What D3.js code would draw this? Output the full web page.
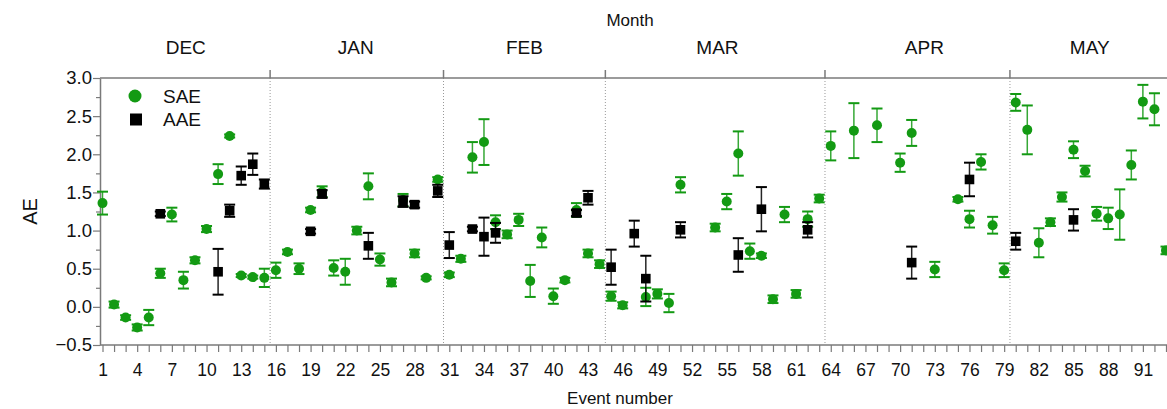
<!DOCTYPE html>
<html>
<head>
<meta charset="utf-8">
<script src="https://cdn.jsdelivr.net/npm/d3@7"></script>
<style>
  body { margin: 0; background: #fff; }
  svg text { font-family: "Liberation Sans", Arial, sans-serif; fill: #111; }
</style>
</head>
<body>
<div id="chart"></div>
<script>
// SAE series : event number, value, error
var saeEvent = [1,2,3,4,5,6,7,8,9,10,11,12,13,14,15,16,17,18,19,20,21,22,23,24,25,26,27,28,29,30,
  31,32,33,34,35,36,37,38,39,40,41,42,43,44,45,46,48,49,50,51,54,55,56,57,58,59,60,61,62,63,
  64,66,68,70,71,73,75,76,77,78,79,80,81,82,83,84,85,86,87,88,89,90,91,92,93];
var saeValue = [1.36,0.03,-0.14,-0.27,-0.14,0.44,1.21,0.35,0.61,1.02,1.74,2.24,0.41,0.39,0.38,0.48,0.72,0.50,1.27,1.51,
  0.51,0.46,1.00,1.58,0.62,0.32,1.40,0.70,0.38,1.67,
  0.42,0.63,1.96,2.16,1.11,0.95,1.14,0.34,0.91,0.14,0.35,1.27,0.70,0.56,0.14,0.02,0.13,0.17,0.05,1.60,
  1.04,1.38,2.01,0.73,0.67,0.10,1.21,0.17,1.15,1.42,
  2.11,2.31,2.38,1.89,2.28,0.49,1.41,1.15,1.90,1.07,0.48,2.68,2.32,0.84,1.11,1.44,2.06,1.78,1.22,1.16,
  1.21,1.86,2.69,2.59,0.74];
var saeErr = [0.15,0.04,0.03,0.04,0.10,0.06,0.09,0.11,0.04,0.04,0.13,0.02,0.02,0.02,0.12,0.10,0.03,0.07,0.03,0.07,
  0.10,0.17,0.05,0.17,0.08,0.05,0.08,0.05,0.02,0.03,
  0.03,0.04,0.20,0.30,0.09,0.05,0.08,0.21,0.13,0.10,0.03,0.09,0.05,0.05,0.06,0.04,0.12,0.06,0.12,0.10,
  0.05,0.10,0.29,0.10,0.03,0.05,0.10,0.05,0.10,0.05,
  0.19,0.36,0.22,0.12,0.17,0.10,0.03,0.11,0.10,0.11,0.09,0.11,0.32,0.19,0.05,0.06,0.11,0.07,0.09,0.14,
  0.33,0.19,0.22,0.21,0.05];

// AAE series
var aaeEvent = [6,11,12,13,14,15,19,20,24,27,28,30,31,33,34,35,42,43,45,47,48,51,56,58,62,71,76,80,85];
var aaeValue = [1.22,0.46,1.26,1.72,1.87,1.61,0.99,1.48,0.80,1.38,1.34,1.52,0.81,1.02,0.92,0.97,1.23,1.43,
  0.52,0.96,0.37,1.01,0.68,1.28,1.01,0.58,1.67,0.86,1.14];
var aaeErr = [0.03,0.30,0.08,0.12,0.14,0.06,0.03,0.05,0.17,0.07,0.04,0.08,0.17,0.03,0.25,0.13,0.04,0.09,
  0.23,0.17,0.30,0.10,0.22,0.29,0.10,0.21,0.22,0.11,0.14];

// months : name, boundary after, label position
var months = ["DEC","JAN","FEB","MAR","APR","MAY"];
var monthBounds = [15.5,30.5,44.5,63.5,79.5];
var monthLabelAt = [8.2,22.9,37.5,54.2,72.1,86.4];

var yTicks = [-0.5,0,0.5,1,1.5,2,2.5,3];

var W = 1167, H = 409;
var green = "#139a13";
var axisCol = "#7a7a7a";

var svg = d3.select("#chart").append("svg").attr("width", W).attr("height", H);

var x = d3.scaleLinear().domain([1, 93]).range([102.5, 1166]);
var y = d3.scaleLinear().domain([-0.5, 3.0]).range([345, 78]);
// (don't call it "top", that's window.top)
var plotLeft = 100, plotRight = W, plotTop = y(3.0), plotBottom = y(-0.5);

// month separators (solid stub above frame, dotted inside)
monthBounds.forEach(function(b) {
  svg.append("line").attr("x1", x(b)).attr("x2", x(b)).attr("y1", plotTop - 8).attr("y2", plotTop)
    .attr("stroke", axisCol).attr("stroke-width", 1.5);
  svg.append("line").attr("x1", x(b)).attr("x2", x(b)).attr("y1", plotTop).attr("y2", plotBottom)
    .attr("stroke", "#999").attr("stroke-width", 1).attr("stroke-dasharray", "1,2");
});

// top frame line
svg.append("line").attr("x1", plotLeft).attr("x2", plotRight).attr("y1", plotTop).attr("y2", plotTop)
  .attr("stroke", axisCol).attr("stroke-width", 1.5);

// x axis
var xAxis = d3.axisBottom(x).tickValues(d3.range(1, 94)).tickSize(7).tickSizeOuter(0)
  .tickFormat(function(d) { return (d - 1) % 3 == 0 && d < 93 ? d : ""; });
var gx = svg.append("g").attr("transform", "translate(0," + plotBottom + ")").call(xAxis);
gx.select(".domain").remove();
gx.selectAll("line").attr("stroke", axisCol).attr("stroke-width", 1.2);
gx.selectAll("text").attr("font-size", 17.5).attr("dy", "1.22em").attr("fill", "#111");
svg.append("line").attr("x1", plotLeft).attr("x2", plotRight).attr("y1", plotBottom).attr("y2", plotBottom)
  .attr("stroke", axisCol).attr("stroke-width", 1.5);

// y axis with minor ticks
var gyMinor = svg.append("g").attr("transform", "translate(" + plotLeft + ",0)")
  .call(d3.axisLeft(y).tickValues(d3.range(-0.25, 3, 0.5)).tickSize(4).tickFormat(""));
gyMinor.select(".domain").remove();
gyMinor.selectAll("line").attr("stroke", axisCol).attr("stroke-width", 1.2);
var gy = svg.append("g").attr("transform", "translate(" + plotLeft + ",0)")
  .call(d3.axisLeft(y).tickValues(yTicks).tickSize(7).tickSizeOuter(0).tickFormat(d3.format(".1f")));
gy.select(".domain").attr("stroke", axisCol).attr("stroke-width", 1.5);
gy.selectAll("line").attr("stroke", axisCol).attr("stroke-width", 1.2);
gy.selectAll("text").attr("font-size", 18.5).attr("fill", "#111").attr("x", -8);

// titles
svg.append("text").attr("x", 630).attr("y", 26).attr("text-anchor", "middle").attr("font-size", 17).text("Month");
months.forEach(function(m, i) {
  svg.append("text").attr("x", x(monthLabelAt[i])).attr("y", 54).attr("text-anchor", "middle")
    .attr("font-size", 19).text(m);
});
svg.append("text").attr("x", 620).attr("y", 404).attr("text-anchor", "middle").attr("font-size", 17).text("Event number");
svg.append("text").attr("transform", "translate(37," + ((plotTop + plotBottom) / 2) + ") rotate(-90)")
  .attr("text-anchor", "middle").attr("font-size", 20).text("AE");

// error bars + markers
function drawSeries(ev, val, err, col, shape) {
  var g = svg.append("g");
  for (var i = 0; i < ev.length; i++) {
    var cx = x(ev[i]), lo = y(val[i] - err[i]), hi = y(val[i] + err[i]);
    g.append("line").attr("x1", cx).attr("x2", cx).attr("y1", lo).attr("y2", hi)
      .attr("stroke", col).attr("stroke-width", 1.5).attr("opacity", 0.85);
    [lo, hi].forEach(function(yy) {
      g.append("line").attr("x1", cx - 5.5).attr("x2", cx + 5.5).attr("y1", yy).attr("y2", yy)
        .attr("stroke", col).attr("stroke-width", 2);
    });
    if (shape == "circle") {
      g.append("circle").attr("cx", cx).attr("cy", y(val[i])).attr("r", 5).attr("fill", col);
    } else {
      g.append("rect").attr("x", cx - 4.8).attr("y", y(val[i]) - 4.8).attr("width", 9.6).attr("height", 9.6).attr("fill", col);
    }
  }
}
drawSeries(saeEvent, saeValue, saeErr, green, "circle");
drawSeries(aaeEvent, aaeValue, aaeErr, "#000", "square");

// legend
svg.append("circle").attr("cx", 135).attr("cy", 96).attr("r", 6.5).attr("fill", green);
svg.append("text").attr("x", 163).attr("y", 102.5).attr("font-size", 19).text("SAE");
svg.append("rect").attr("x", 130).attr("y", 113.5).attr("width", 12).attr("height", 12).attr("fill", "#000");
svg.append("text").attr("x", 163).attr("y", 126).attr("font-size", 19).text("AAE");
</script>
</body>
</html>
